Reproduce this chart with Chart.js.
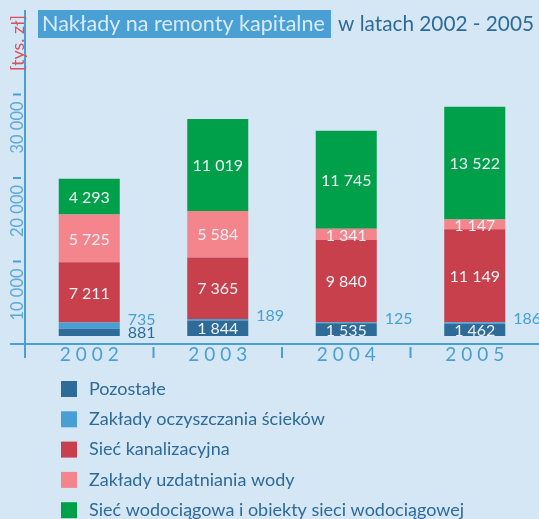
<!DOCTYPE html>
<html>
<head>
<meta charset="utf-8">
<script src="https://cdn.jsdelivr.net/npm/chart.js@4/dist/chart.umd.min.js"></script>
<style>
  html, body { margin: 0; padding: 0; background: #D5E7F5; }
  canvas { display: block; }
</style>
</head>
<body>
<canvas id="chart" width="539" height="519"></canvas>
<script>
const years = ['2002', '2003', '2004', '2005'];
const pozostale = [881, 1844, 1535, 1462];
const oczyszczalnie = [735, 189, 125, 186];
const kanalizacja = [7211, 7365, 9840, 11149];
const uzdatnianie = [5725, 5584, 1341, 1147];
const wodociagi = [4293, 11019, 11745, 13522];
const yTicks = [10000, 20000, 30000];
const seriesNames = [
	'Pozostałe',
	'Zakłady oczyszczania ścieków',
	'Sieć kanalizacyjna',
	'Zakłady uzdatniania wody',
	'Sieć wodociągowa i obiekty sieci wodociągowej'
];
const titleMain = 'Nakłady na remonty kapitalne';
const titleRest = 'w latach 2002 - 2005';
const unitLabel = '[tys. zł]';

const colors = ['#2E6B99', '#479FD4', '#C9404D', '#F4858C', '#00A04B'];
const axisColor = '#4A9FD5';
const darkText = '#2E6A99';
const FONT = 'Lato, "Liberation Sans", sans-serif';

function fmt(n) {
	return String(n).replace(/\B(?=(\d{3})+(?!\d))/g, ' ');
}

// pick a font size so the text is about `width` px wide
function fitFont(ctx, text, width, size) {
	ctx.font = size + 'px ' + FONT;
	const s = size * width / ctx.measureText(text).width;
	ctx.font = s.toFixed(2) + 'px ' + FONT;
}

// letter-spaced text, centred on x
function spacedText(ctx, text, x, y, spacing) {
	const chars = text.split('');
	const widths = chars.map(c => ctx.measureText(c).width);
	const total = widths.reduce((a, b) => a + b, 0) + spacing * (chars.length - 1);
	let cx = x - total / 2;
	ctx.textAlign = 'left';
	chars.forEach((c, i) => {
		ctx.fillText(c, cx, y);
		cx += widths[i] + spacing;
	});
}

const decor = {
	id: 'decor',
	afterDraw(chart) {
		const ctx = chart.ctx;
		const area = chart.chartArea;
		const xs = chart.scales.x;
		const ys = chart.scales.y;
		ctx.save();

		// title
		ctx.fillStyle = '#4A9FD5';
		ctx.fillRect(38, 10, 293, 28);
		ctx.textBaseline = 'middle';
		ctx.textAlign = 'left';
		fitFont(ctx, titleMain, 283, 22);
		ctx.fillStyle = '#D9EBF8';
		ctx.fillText(titleMain, 42, 24);
		fitFont(ctx, titleRest, 196, 22);
		ctx.fillStyle = darkText;
		ctx.fillText(titleRest, 338, 24);

		// axes lines
		ctx.strokeStyle = axisColor;
		ctx.lineWidth = 2;
		ctx.beginPath();
		ctx.moveTo(area.left, 10);
		ctx.lineTo(area.left, 358);
		ctx.moveTo(10, 344);
		ctx.lineTo(539, 344);
		ctx.stroke();

		// x ticks between categories + labels
		ctx.beginPath();
		for (let i = 1; i < years.length; i++) {
			const bx = (xs.getPixelForValue(i - 1) + xs.getPixelForValue(i)) / 2;
			ctx.moveTo(bx, 347);
			ctx.lineTo(bx, 358);
		}
		ctx.stroke();
		ctx.fillStyle = axisColor;
		ctx.font = '19px ' + FONT;
		ctx.textBaseline = 'middle';
		years.forEach((y, i) => spacedText(ctx, y, xs.getPixelForValue(i), 355, 5));

		// y ticks and rotated labels
		ctx.beginPath();
		yTicks.forEach(v => {
			const py = ys.getPixelForValue(v) + 9;
			ctx.moveTo(13, py);
			ctx.lineTo(21, py);
		});
		ctx.stroke();
		fitFont(ctx, '20 000', 52, 16);
		ctx.fillStyle = '#5DA9DC';
		yTicks.forEach(v => {
			const py = ys.getPixelForValue(v) + 9;
			ctx.save();
			ctx.translate(18, py + 7);
			ctx.rotate(-Math.PI / 2);
			ctx.textAlign = 'right';
			ctx.textBaseline = 'middle';
			ctx.fillText(fmt(v), 0, 0);
			ctx.restore();
		});
		ctx.save();
		ctx.translate(18, 15);
		ctx.rotate(-Math.PI / 2);
		ctx.textAlign = 'right';
		ctx.textBaseline = 'middle';
		ctx.fillStyle = '#D9505E';
		fitFont(ctx, unitLabel, 56, 15);
		ctx.fillText(unitLabel, 0, 0);
		ctx.restore();

		// value labels
		ctx.font = '16px ' + FONT;
		chart.data.datasets.forEach((ds, di) => {
			const meta = chart.getDatasetMeta(di);
			meta.data.forEach((bar, i) => {
				const v = ds.data[i];
				const props = bar.getProps(['x', 'y', 'base', 'width']);
				if (v >= 1000) {
					ctx.fillStyle = '#EDF1F3';
					ctx.textAlign = 'center';
					ctx.textBaseline = 'middle';
					ctx.fillText(fmt(v), props.x, (props.y + props.base) / 2 + 1);
				} else {
					ctx.fillStyle = di === 0 ? darkText : '#479FD4';
					ctx.textAlign = 'left';
					ctx.textBaseline = 'middle';
					const ly = di === 0 ? (props.y + props.base) / 2 + 1 : props.y - 3;
					ctx.fillText(fmt(v), props.x + props.width / 2 + 8, ly);
				}
			});
		});

		// legend
		ctx.font = '18px ' + FONT;
		ctx.textAlign = 'left';
		ctx.textBaseline = 'middle';
		chart.data.datasets.forEach((ds, di) => {
			const cy = 389 + di * 30.3;
			ctx.fillStyle = ds.backgroundColor;
			ctx.fillRect(61, cy - 8, 16, 16);
			ctx.fillStyle = darkText;
			ctx.fillText(ds.label, 89, cy);
		});

		ctx.restore();
	}
};

const seriesData = [pozostale, oczyszczalnie, kanalizacja, uzdatnianie, wodociagi];

new Chart(document.getElementById('chart').getContext('2d'), {
	type: 'bar',
	data: {
		labels: years,
		datasets: seriesData.map((d, i) => ({
			label: seriesNames[i],
			data: d,
			backgroundColor: colors[i],
			borderWidth: 0,
			barPercentage: 0.475,
			categoryPercentage: 1
		}))
	},
	options: {
		responsive: false,
		animation: false,
		devicePixelRatio: 1,
		layout: { padding: { left: 25, right: 0, top: 2, bottom: 183 } },
		plugins: { legend: { display: false }, tooltip: { enabled: false } },
		scales: {
			x: { stacked: true, display: false },
			y: { stacked: true, display: false, min: 0, max: 40000 }
		}
	},
	plugins: [decor]
});
</script>
</body>
</html>
